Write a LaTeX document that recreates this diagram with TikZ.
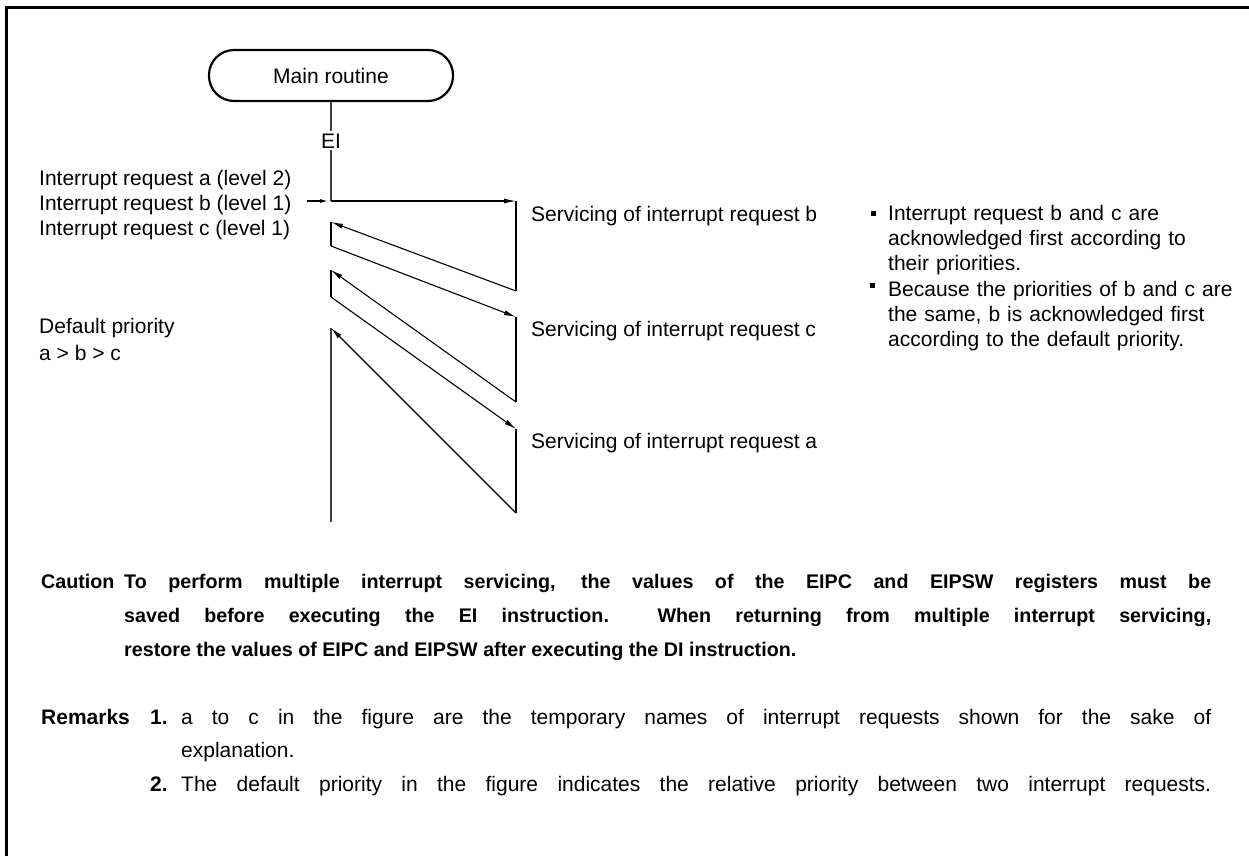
\documentclass[tikz,border=0pt]{standalone}
\usepackage{fontspec}
\setmainfont{Liberation Sans}
\usetikzlibrary{arrows.meta}
\begin{document}
\begin{tikzpicture}[x=1pt,y=-1pt,
  txt/.style={anchor=base west, inner sep=0pt, font=\fontsize{21}{25}\selectfont},
  para/.style={anchor=base west, inner sep=0pt, font=\fontsize{21}{33.5}\selectfont},
  boldpara/.style={anchor=base west, inner sep=0pt, font=\fontsize{19.7}{34}\selectfont\bfseries},
  flow/.style={line width=1.1pt},
  arr/.style={flow, -{Latex[length=12pt,width=5pt]}},
  routine/.style={draw, line width=2.2pt, rounded corners=25pt, minimum width=244pt, minimum height=51pt, font=\fontsize{21}{25}\selectfont},
  bulletsq/.style={fill=black, inner sep=0pt, minimum size=5pt}]
\useasboundingbox (0,0) rectangle (1249,856);
% frame
\draw[line width=3pt] (6.5,856) -- (6.5,8) -- (1249,8);
% main routine
\node[routine] (main) at (331,75.5) {Main routine};
\node[anchor=base, inner sep=2pt, font=\fontsize{21}{25}\selectfont] (ei) at (331,148) {EI};
\coordinate (L0) at (331,201);
\coordinate (R0) at (516,201);
\coordinate (R1) at (516,291);
\coordinate (L1) at (331,222);
\coordinate (L2) at (331,246);
\coordinate (R2) at (516,317);
\coordinate (R3) at (516,402);
\coordinate (L3) at (331,270);
\coordinate (L4) at (331,297);
\coordinate (R4) at (516,429);
\coordinate (R5) at (516,513);
\coordinate (L5) at (331,328);
\coordinate (L6) at (331,522);
\coordinate (inS) at (307,201);
\coordinate (inE) at (328,201);
\draw[flow, draw=black!75] (main.south) -- (ei.north);
\draw[flow, draw=black!75] (ei.south) -- (L0);
\draw[arr] (L0) -- (R0);
\draw[flow] (R0) -- (R1);
\draw[arr] (R1) -- (L1);
\draw[flow] (L1) -- (L2);
\draw[arr] (L2) -- (R2);
\draw[flow] (R2) -- (R3);
\draw[arr] (R3) -- (L3);
\draw[flow] (L3) -- (L4);
\draw[arr] (L4) -- (R4);
\draw[flow] (R4) -- (R5);
\draw[arr] (R5) -- (L5);
\draw[flow, draw=black!75] (L5) -- (L6);
\draw[flow, -{Latex[length=8pt,width=4pt]}] (inS) -- (inE);
% left labels
\node[txt] (ra) at (39,185) {Interrupt request a (level 2)};
\node[txt] (rb) at (39,210) {Interrupt request b (level 1)};
\node[txt] (rc) at (39,235) {Interrupt request c (level 1)};
\node[txt] (dp) at (39,333) {Default priority};
\node[txt] (ord) at (39,360) {a > b > c};
% servicing labels
\node[txt] (sb) at (531,221) {Servicing of interrupt request b};
\node[txt] (sc) at (531,336) {Servicing of interrupt request c};
\node[txt] (sa) at (531,448) {Servicing of interrupt request a};
% bullets
\node[bulletsq] (b1) at (873,213.5) {};
\node[bulletsq] (b2) at (872,285) {};
\node[txt, text width=355pt, align=left] (t1) at (888,220) {Interrupt request b and c are\\acknowledged first according to\\their priorities.};
\node[txt, text width=355pt, align=left] (t2) at (888,296) {Because the priorities of b and c are\\the same, b is acknowledged first\\according to the default priority.};
% caution
\node[boldpara] (cl) at (41,588) {Caution};
\node[boldpara, text width=1087pt, align=justify] (ct) at (124,588) {To perform multiple interrupt servicing, the values of the EIPC and EIPSW registers must be\linebreak saved before executing the EI instruction.\ \ When returning from multiple interrupt servicing,\linebreak restore the values of EIPC and EIPSW after executing the DI instruction.};
% remarks
\node[para, font=\fontsize{21}{33.5}\selectfont\bfseries] (rl) at (41,724) {Remarks};
\node[para, font=\fontsize{21}{33.5}\selectfont\bfseries] (r1n) at (150,724) {1.};
\node[para, text width=1030pt, align=justify] (r1) at (181,724) {a to c in the figure are the temporary names of interrupt requests shown for the sake of\linebreak explanation.};
\node[para, font=\fontsize{21}{33.5}\selectfont\bfseries] (r2n) at (150,791) {2.};
\node[para] (r2) at (181,791) {\makebox[1030pt][s]{The default priority in the figure indicates the relative priority between two interrupt requests.}};
\end{tikzpicture}
\end{document}
